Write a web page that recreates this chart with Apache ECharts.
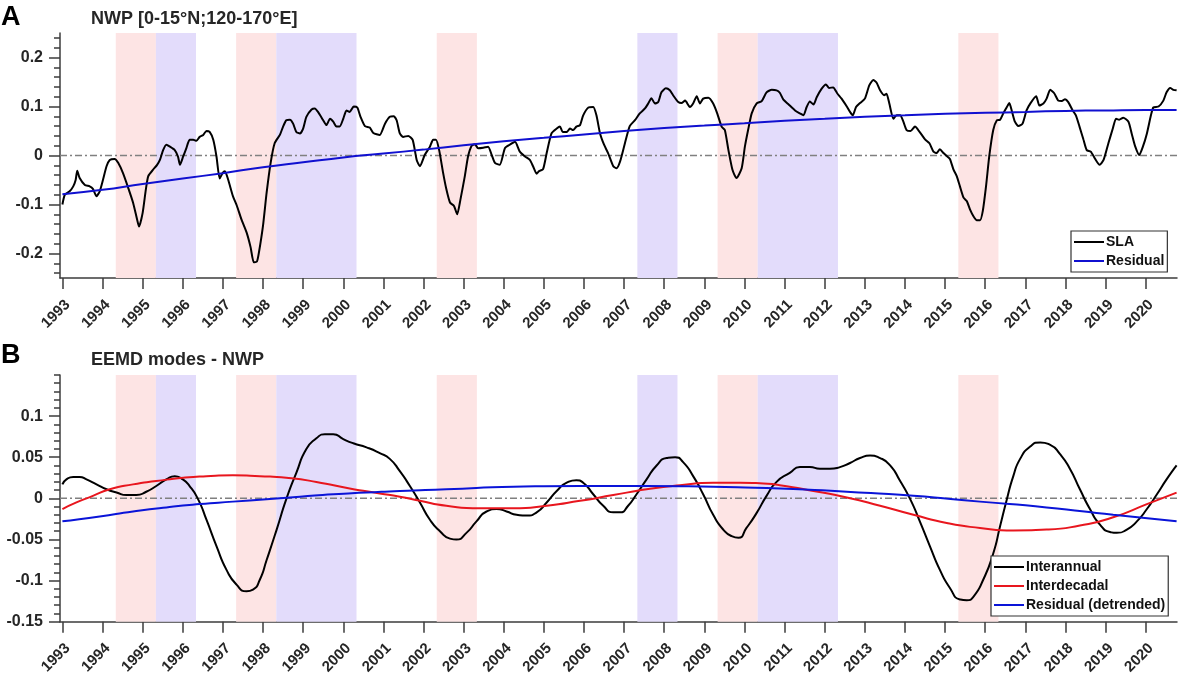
<!DOCTYPE html>
<html lang="en">
<head>
  <meta charset="UTF-8">
  <title>NWP SLA and EEMD modes</title>
  <script src="https://cdn.jsdelivr.net/npm/echarts@6/dist/echarts.min.js"></script>
  <style>
    html, body { margin: 0; padding: 0; background: #fff; }
    #main { width: 1181px; height: 677px; }
  </style>
</head>
<body>
<div id="main"></div>
<script>
  // time axis (decimal years)
  const xMin = 1992.94, xMax = 2020.78;
  const yearTicks = [1993, 1994, 1995, 1996, 1997, 1998, 1999, 2000, 2001, 2002, 2003, 2004, 2005, 2006,
    2007, 2008, 2009, 2010, 2011, 2012, 2013, 2014, 2015, 2016, 2017, 2018, 2019, 2020];

  // y ticks
  const aMajor = [-0.2, -0.1, 0, 0.1, 0.2];
  const aMinor = [-0.24, -0.22, -0.18, -0.16, -0.14, -0.12, -0.08, -0.06, -0.04, -0.02,
    0.02, 0.04, 0.06, 0.08, 0.12, 0.14, 0.16, 0.18, 0.22, 0.24];
  const bMajor = [-0.15, -0.1, -0.05, 0, 0.05, 0.1];
  const bMinor = [-0.14, -0.13, -0.12, -0.11, -0.09, -0.08, -0.07, -0.06, -0.04, -0.03, -0.02, -0.01,
    0.01, 0.02, 0.03, 0.04, 0.06, 0.07, 0.08, 0.09, 0.11, 0.12, 0.13, 0.14, 0.15];

  // shaded periods
  const elNinoBands = [[1994.33, 1995.33], [1997.33, 1998.33], [2002.33, 2003.33], [2009.33, 2010.33], [2015.33, 2016.33]];
  const laNinaBands = [[1995.33, 1996.33], [1998.33, 2000.33], [2007.33, 2008.33], [2010.33, 2012.33]];

  // panel A
  const slaData = [
    [1993.00,-0.100],[1993.06,-0.080],[1993.18,-0.073],[1993.27,-0.063],[1993.33,-0.050],[1993.37,-0.031],[1993.43,-0.046],
    [1993.56,-0.060],[1993.68,-0.063],[1993.76,-0.068],[1993.85,-0.083],[1993.93,-0.073],[1994.01,-0.050],[1994.10,-0.022],
    [1994.18,-0.009],[1994.30,-0.007],[1994.39,-0.015],[1994.51,-0.036],[1994.64,-0.066],[1994.76,-0.096],[1994.86,-0.130],
    [1994.91,-0.145],[1995.00,-0.117],[1995.08,-0.069],[1995.14,-0.042],[1995.26,-0.029],[1995.36,-0.019],[1995.43,-0.009],
    [1995.51,0.011],[1995.59,0.022],[1995.68,0.018],[1995.80,0.011],[1995.88,-0.002],[1995.93,-0.019],[1996.01,-0.002],
    [1996.09,0.015],[1996.17,0.032],[1996.26,0.032],[1996.34,0.030],[1996.42,0.038],[1996.51,0.042],[1996.59,0.050],
    [1996.67,0.048],[1996.76,0.032],[1996.84,-0.002],[1996.92,-0.047],[1996.99,-0.036],[1997.05,-0.032],[1997.13,-0.049],
    [1997.25,-0.083],[1997.35,-0.103],[1997.46,-0.130],[1997.59,-0.157],[1997.69,-0.187],[1997.77,-0.218],[1997.85,-0.216],
    [1997.90,-0.197],[1998.00,-0.143],[1998.09,-0.076],[1998.19,-0.015],[1998.29,0.025],[1998.42,0.042],[1998.50,0.059],
    [1998.58,0.072],[1998.67,0.073],[1998.75,0.065],[1998.83,0.048],[1998.92,0.045],[1999.00,0.055],[1999.08,0.079],
    [1999.21,0.094],[1999.29,0.096],[1999.37,0.089],[1999.50,0.072],[1999.58,0.062],[1999.67,0.075],[1999.75,0.069],
    [1999.83,0.059],[1999.91,0.059],[2000.00,0.075],[2000.08,0.092],[2000.16,0.089],[2000.26,0.100],[2000.35,0.098],
    [2000.43,0.079],[2000.54,0.060],[2000.66,0.057],[2000.75,0.046],[2000.91,0.042],[2001.04,0.065],[2001.16,0.079],
    [2001.26,0.080],[2001.33,0.072],[2001.41,0.045],[2001.49,0.038],[2001.62,0.040],[2001.73,0.032],[2001.83,-0.009],
    [2001.91,-0.022],[2002.03,0.001],[2002.16,0.018],[2002.24,0.032],[2002.31,0.032],[2002.39,0.011],[2002.49,-0.036],
    [2002.57,-0.069],[2002.66,-0.096],[2002.76,-0.103],[2002.84,-0.120],[2002.92,-0.090],[2003.03,-0.042],[2003.11,-0.002],
    [2003.20,0.020],[2003.28,0.023],[2003.36,0.015],[2003.49,0.016],[2003.61,0.018],[2003.70,0.001],[2003.78,-0.015],
    [2003.90,-0.019],[2004.03,0.015],[2004.15,0.022],[2004.28,0.028],[2004.40,0.008],[2004.53,-0.002],[2004.65,-0.009],
    [2004.73,-0.022],[2004.82,-0.037],[2004.88,-0.032],[2004.98,-0.028],[2005.07,0.005],[2005.19,0.045],[2005.32,0.055],
    [2005.40,0.059],[2005.47,0.048],[2005.57,0.048],[2005.65,0.055],[2005.73,0.052],[2005.81,0.059],[2005.90,0.062],
    [2005.98,0.082],[2006.11,0.098],[2006.23,0.099],[2006.31,0.082],[2006.40,0.045],[2006.50,0.022],[2006.60,0.005],
    [2006.73,-0.022],[2006.81,-0.026],[2006.90,-0.012],[2007.02,0.025],[2007.14,0.060],[2007.27,0.072],[2007.39,0.086],
    [2007.52,0.096],[2007.60,0.106],[2007.68,0.117],[2007.77,0.106],[2007.85,0.109],[2007.93,0.129],[2008.04,0.137],
    [2008.14,0.133],[2008.22,0.123],[2008.35,0.109],[2008.43,0.107],[2008.52,0.112],[2008.64,0.099],[2008.72,0.106],
    [2008.81,0.121],[2008.89,0.106],[2008.97,0.116],[2009.10,0.118],[2009.22,0.106],[2009.32,0.086],[2009.43,0.059],
    [2009.51,0.052],[2009.60,0.011],[2009.70,-0.029],[2009.80,-0.046],[2009.93,-0.026],[2010.01,0.018],[2010.09,0.052],
    [2010.18,0.086],[2010.30,0.106],[2010.43,0.111],[2010.55,0.129],[2010.68,0.134],[2010.80,0.133],[2010.88,0.128],
    [2010.97,0.114],[2011.09,0.105],[2011.26,0.092],[2011.38,0.086],[2011.47,0.082],[2011.55,0.099],[2011.63,0.110],
    [2011.72,0.104],[2011.80,0.119],[2011.92,0.136],[2012.03,0.145],[2012.11,0.138],[2012.21,0.139],[2012.31,0.127],
    [2012.42,0.116],[2012.55,0.100],[2012.63,0.089],[2012.70,0.082],[2012.78,0.099],[2012.88,0.107],[2013.00,0.116],
    [2013.11,0.143],[2013.21,0.154],[2013.29,0.149],[2013.38,0.133],[2013.48,0.123],[2013.54,0.126],[2013.61,0.106],
    [2013.71,0.075],[2013.79,0.082],[2013.88,0.082],[2013.96,0.069],[2014.04,0.052],[2014.14,0.050],[2014.25,0.059],
    [2014.33,0.052],[2014.42,0.042],[2014.50,0.033],[2014.61,0.025],[2014.71,0.008],[2014.79,0.005],[2014.87,0.013],
    [2014.96,0.005],[2015.04,-0.001],[2015.12,-0.007],[2015.21,-0.029],[2015.29,-0.042],[2015.37,-0.063],[2015.46,-0.086],
    [2015.54,-0.093],[2015.62,-0.110],[2015.70,-0.123],[2015.79,-0.132],[2015.87,-0.132],[2015.94,-0.113],[2016.02,-0.063],
    [2016.10,-0.002],[2016.20,0.052],[2016.29,0.072],[2016.37,0.073],[2016.45,0.086],[2016.54,0.099],[2016.60,0.107],
    [2016.66,0.092],[2016.74,0.069],[2016.83,0.060],[2016.93,0.065],[2017.03,0.092],[2017.13,0.107],[2017.27,0.121],
    [2017.35,0.102],[2017.45,0.106],[2017.53,0.116],[2017.62,0.134],[2017.72,0.127],[2017.82,0.112],[2017.91,0.111],
    [2017.99,0.115],[2018.07,0.109],[2018.18,0.092],[2018.26,0.082],[2018.35,0.059],[2018.45,0.032],[2018.53,0.011],
    [2018.63,0.008],[2018.74,-0.007],[2018.85,-0.019],[2018.95,-0.009],[2019.07,0.025],[2019.18,0.055],[2019.26,0.075],
    [2019.34,0.073],[2019.44,0.077],[2019.57,0.069],[2019.65,0.045],[2019.74,0.018],[2019.84,0.001],[2019.93,0.018],
    [2020.03,0.045],[2020.13,0.082],[2020.19,0.098],[2020.32,0.100],[2020.44,0.112],[2020.52,0.129],[2020.61,0.138],
    [2020.69,0.134],[2020.77,0.133]
  ];
  const residualA = [
    [1993.0,-0.079],[1994.0,-0.070],[1995.0,-0.058],[1996.0,-0.047],[1997.0,-0.036],[1998.0,-0.024],[1999.0,-0.014],
    [2000.0,-0.004],[2001.0,0.004],[2002.0,0.012],[2003.0,0.021],[2004.0,0.029],[2005.0,0.036],[2006.0,0.043],
    [2007.0,0.050],[2008.0,0.056],[2009.0,0.061],[2010.0,0.066],[2011.0,0.071],[2012.0,0.075],[2013.0,0.079],
    [2014.0,0.082],[2015.0,0.085],[2016.0,0.087],[2017.0,0.089],[2018.0,0.091],[2019.0,0.092],[2020.0,0.093],[2020.77,0.093]
  ];

  // panel B
  const interannual = [
    [1993.00,0.017],[1993.10,0.023],[1993.27,0.026],[1993.43,0.026],[1993.60,0.023],[1993.85,0.017],[1994.10,0.011],
    [1994.35,0.007],[1994.60,0.004],[1994.84,0.004],[1995.09,0.008],[1995.34,0.015],[1995.59,0.023],[1995.80,0.027],
    [1995.97,0.024],[1996.17,0.015],[1996.38,-0.001],[1996.59,-0.026],[1996.84,-0.058],[1997.09,-0.087],[1997.34,-0.105],
    [1997.59,-0.113],[1997.75,-0.111],[1997.92,-0.099],[1998.09,-0.075],[1998.34,-0.038],[1998.58,-0.001],[1998.83,0.031],
    [1999.08,0.060],[1999.33,0.073],[1999.54,0.078],[1999.75,0.078],[2000.00,0.072],[2000.25,0.067],[2000.58,0.062],
    [2000.91,0.055],[2001.16,0.048],[2001.41,0.033],[2001.66,0.015],[2001.91,-0.005],[2002.16,-0.026],[2002.41,-0.040],
    [2002.66,-0.049],[2002.82,-0.050],[2003.07,-0.042],[2003.32,-0.028],[2003.57,-0.016],[2003.82,-0.013],[2004.07,-0.016],
    [2004.32,-0.020],[2004.57,-0.021],[2004.82,-0.017],[2005.07,-0.005],[2005.32,0.009],[2005.57,0.019],[2005.81,0.022],
    [2005.98,0.019],[2006.23,0.005],[2006.48,-0.009],[2006.73,-0.017],[2006.90,-0.017],[2007.10,-0.009],[2007.31,0.005],
    [2007.56,0.023],[2007.81,0.040],[2008.06,0.049],[2008.27,0.050],[2008.47,0.044],[2008.72,0.027],[2008.97,0.005],
    [2009.22,-0.020],[2009.47,-0.038],[2009.68,-0.046],[2009.85,-0.048],[2010.05,-0.036],[2010.30,-0.018],[2010.55,0.003],
    [2010.80,0.020],[2011.13,0.031],[2011.38,0.038],[2011.63,0.038],[2011.88,0.036],[2012.13,0.036],[2012.38,0.038],
    [2012.63,0.043],[2012.88,0.049],[2013.13,0.052],[2013.38,0.049],[2013.63,0.040],[2013.88,0.021],[2014.13,-0.001],
    [2014.37,-0.028],[2014.62,-0.058],[2014.87,-0.087],[2015.12,-0.109],[2015.37,-0.123],[2015.54,-0.124],[2015.70,-0.120],
    [2015.95,-0.099],[2016.20,-0.067],[2016.37,-0.034],[2016.54,-0.001],[2016.70,0.027],[2016.87,0.048],[2017.12,0.063],
    [2017.37,0.068],[2017.62,0.065],[2017.86,0.054],[2018.11,0.036],[2018.36,0.011],[2018.61,-0.013],[2018.86,-0.032],
    [2019.11,-0.041],[2019.28,-0.042],[2019.53,-0.038],[2019.78,-0.028],[2020.03,-0.013],[2020.28,0.005],[2020.52,0.023],
    [2020.77,0.040]
  ];
  const interdecadal = [
    [1993.00,-0.013],[1993.35,-0.005],[1993.76,0.003],[1994.18,0.011],[1994.76,0.017],[1995.34,0.021],[1996.01,0.025],
    [1996.59,0.027],[1997.25,0.028],[1997.92,0.027],[1998.58,0.025],[1999.33,0.020],[2000.16,0.012],[2000.91,0.006],
    [2001.41,0.002],[2001.91,-0.003],[2002.57,-0.009],[2003.40,-0.012],[2004.24,-0.012],[2005.07,-0.009],[2005.90,-0.003],
    [2006.73,0.004],[2007.56,0.011],[2008.39,0.016],[2009.22,0.019],[2009.89,0.019],[2010.47,0.018],[2010.88,0.016],
    [2011.72,0.009],[2012.55,0.001],[2013.38,-0.009],[2014.21,-0.020],[2015.04,-0.030],[2015.87,-0.036],[2016.70,-0.039],
    [2017.53,-0.038],[2018.36,-0.033],[2019.19,-0.023],[2020.03,-0.007],[2020.77,0.007]
  ];
  const residualB = [
    [1993.00,-0.028],[1993.93,-0.022],[1994.76,-0.016],[1995.59,-0.011],[1996.42,-0.007],[1997.25,-0.004],[1998.09,-0.001],
    [1998.92,0.002],[1999.75,0.005],[2000.58,0.007],[2001.41,0.009],[2002.57,0.011],[2004.24,0.014],[2005.90,0.015],
    [2007.56,0.015],[2009.22,0.014],[2010.88,0.012],[2012.55,0.008],[2014.21,0.003],[2015.87,-0.004],[2017.53,-0.011],
    [2019.19,-0.020],[2020.77,-0.028]
  ];

  const FONT = '"Liberation Sans", Arial, Helvetica, sans-serif';
  const AXIS_COLOR = '#3c3c3c';
  const TEXT_COLOR = '#262626';
  const PINK = '#fde4e4';
  const LAVENDER = '#e3dcfb';

  function bandAreas() {
    const out = [];
    elNinoBands.forEach(function (b) {
      out.push([{ xAxis: b[0], itemStyle: { color: PINK } }, { xAxis: b[1] }]);
    });
    laNinaBands.forEach(function (b) {
      out.push([{ xAxis: b[0], itemStyle: { color: LAVENDER } }, { xAxis: b[1] }]);
    });
    return out;
  }

  function makeXAxis(gridIndex) {
    return {
      type: 'value', gridIndex: gridIndex, min: xMin, max: xMax,
      axisLine: { show: true, onZero: false, lineStyle: { color: AXIS_COLOR, width: 1.5 } },
      axisTick: { show: true, customValues: yearTicks, length: 11, lineStyle: { color: AXIS_COLOR, width: 1.5 } },
      axisLabel: {
        customValues: yearTicks, rotate: 45, align: 'right', verticalAlign: 'top', margin: 19,
        fontFamily: FONT, fontWeight: 'bold', fontSize: 15, color: TEXT_COLOR,
        formatter: function (v) { return String(Math.round(v)); }
      },
      splitLine: { show: false }
    };
  }

  function makeYAxes(gridIndex, lo, hi, major, minor) {
    return [{
      type: 'value', gridIndex: gridIndex, position: 'left', min: lo, max: hi,
      axisLine: { show: true, lineStyle: { color: AXIS_COLOR, width: 1.5 } },
      axisTick: { show: true, customValues: major, length: 11, lineStyle: { color: AXIS_COLOR, width: 1.5 } },
      axisLabel: {
        customValues: major, margin: 17, fontFamily: FONT, fontWeight: 'bold', fontSize: 16, color: TEXT_COLOR,
        formatter: function (v) { return String(Math.round(v * 1000) / 1000); }
      },
      splitLine: { show: false }
    }, {
      type: 'value', gridIndex: gridIndex, position: 'left', min: lo, max: hi,
      axisLine: { show: false },
      axisTick: { show: true, customValues: minor, length: 6, lineStyle: { color: AXIS_COLOR, width: 1.5 } },
      axisLabel: { show: false },
      splitLine: { show: false }
    }];
  }

  function zeroSeries(xi, yi) {
    return {
      type: 'line', xAxisIndex: xi, yAxisIndex: yi, z: 2, silent: true, symbol: 'none',
      data: [[xMin, 0], [xMax, 0]],
      lineStyle: { color: '#808080', width: 1.5, type: [7, 3, 2, 3] },
      markArea: { silent: true, data: bandAreas() }
    };
  }

  function curve(name, data, color, xi, yi, smooth) {
    return {
      name: name, type: 'line', xAxisIndex: xi, yAxisIndex: yi, z: 3,
      symbol: 'none', smooth: smooth, data: data,
      lineStyle: { color: color, width: 2 }, itemStyle: { color: color }
    };
  }

  const legendBase = {
    orient: 'vertical', icon: 'rect', itemWidth: 30, itemHeight: 2, itemGap: 5,
    padding: [4, 3, 4, 3], borderColor: '#333', borderWidth: 1.2, backgroundColor: '#fff',
    textStyle: { fontFamily: FONT, fontWeight: 'bold', fontSize: 14, color: '#111', padding: [0, 0, 0, -3] }
  };

  const myChart = echarts.init(document.getElementById('main'), null, { renderer: 'canvas' });

  myChart.setOption({
    animation: false,
    backgroundColor: '#fff',
    grid: [
      { left: 60, top: 33, width: 1117, height: 245 },
      { left: 60, top: 375, width: 1117, height: 247 }
    ],
    xAxis: [makeXAxis(0), makeXAxis(1)],
    yAxis: makeYAxes(0, -0.25, 0.25, aMajor, aMinor).concat(makeYAxes(1, -0.15, 0.15, bMajor, bMinor)),
    legend: [
      Object.assign({}, legendBase, { left: 1071, top: 231, data: ['SLA', 'Residual'] }),
      Object.assign({}, legendBase, { left: 991, top: 556, data: ['Interannual', 'Interdecadal', 'Residual (detrended)'] })
    ],
    graphic: [
      { type: 'text', left: 1, top: 4, style: { text: 'A', font: 'bold 27px ' + FONT, fill: '#000' } },
      { type: 'text', left: 91, top: 10, style: { text: 'NWP [0-15°N;120-170°E]', font: 'bold 18px ' + FONT, fill: TEXT_COLOR } },
      { type: 'text', left: 1, top: 342, style: { text: 'B', font: 'bold 27px ' + FONT, fill: '#000' } },
      { type: 'text', left: 91, top: 351, style: { text: 'EEMD modes - NWP', font: 'bold 18px ' + FONT, fill: TEXT_COLOR } }
    ],
    series: [
      zeroSeries(0, 0),
      curve('SLA', slaData, '#000000', 0, 0, 0.2),
      curve('Residual', residualA, '#1010d0', 0, 0, 0.5),
      zeroSeries(1, 2),
      curve('Interannual', interannual, '#000000', 1, 2, 0.6),
      curve('Interdecadal', interdecadal, '#e8161e', 1, 2, 0.6),
      curve('Residual (detrended)', residualB, '#0a14d8', 1, 2, 0.6)
    ]
  });
</script>
</body>
</html>
